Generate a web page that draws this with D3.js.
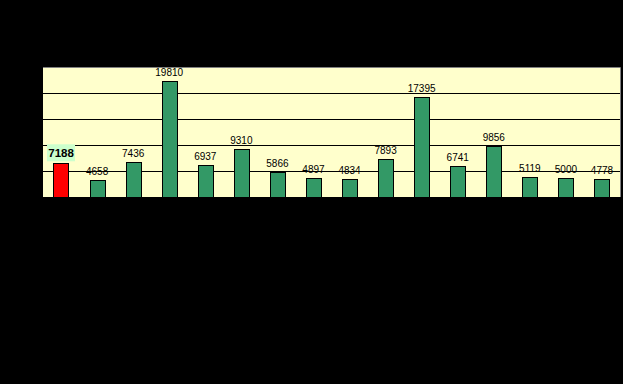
<!DOCTYPE html>
<html>
<head>
<meta charset="utf-8">
<script src="https://cdn.jsdelivr.net/npm/d3@7"></script>
<style>
  html, body { margin: 0; padding: 0; background: #000; }
  svg { display: block; }
</style>
</head>
<body>
<div class="barChart"></div>
<script>
(function(){
var categories = ["1","2","3","4","5","6","7","8","9","10","11","12","13","14","15","16"];
var values = [7188, 4658, 7436, 19810, 6937, 9310, 5866, 4897, 4834, 7893, 17395, 6741, 9856, 5119, 5000, 4778];
var yTicks = [2000, 6000, 10000, 14000, 18000, 22000];
var highlight = 0;

var width = 623, height = 384;
var plot = {left: 43, top: 67, right: 620, bottom: 197};

var chart = d3.select('.barChart').append('svg')
  .attr('width', width).attr('height', height)
  .style('background', '#000');

var x = d3.scaleBand().domain(categories)
  .range([plot.left, plot.right]).paddingInner(0.58).paddingOuter(0.29);
var y = d3.scaleLinear().domain([2000, 22000]).range([plot.bottom, plot.top]);

// plot area
chart.append('rect')
  .attr('x', plot.left).attr('y', plot.top)
  .attr('width', plot.right - plot.left).attr('height', plot.bottom - plot.top)
  .style('fill', '#ffffcc');

// gridlines
var grid = chart.append('g')
  .attr('transform', 'translate(' + plot.left + ',0)')
  .call(d3.axisLeft(y).tickValues(yTicks.slice(1, -1)).tickSize(-(plot.right - plot.left)).tickFormat(''));
grid.select('.domain').remove();
grid.selectAll('line').style('stroke', '#000').style('shape-rendering', 'crispEdges');

// plot border (gray top/right)
chart.append('path')
  .attr('d', 'M' + plot.left + ',' + (plot.top + 0.5) + 'H' + (plot.right + 0.5) + 'V' + plot.bottom)
  .style('fill', 'none').style('stroke', '#808080').style('stroke-width', 1);

// bars
chart.selectAll('rect.bar').data(values).enter()
  .append('rect')
  .attr('class', 'bar')
  .attr('x', function(d, i){ return Math.round(x(categories[i])) + 0.5; })
  .attr('y', function(d){ return Math.round(y(d)) + 0.5; })
  .attr('width', Math.round(x.bandwidth()))
  .attr('height', function(d){ return plot.bottom - Math.round(y(d)); })
  .style('fill', function(d, i){ return i === highlight ? '#ff0000' : '#339966'; })
  .style('stroke', '#000')
  .style('stroke-width', 1);

// highlight label box
var hx = x(categories[highlight]) + x.bandwidth() / 2;
chart.append('rect')
  .attr('x', hx - 14).attr('y', y(values[highlight]) - 19)
  .attr('width', 28).attr('height', 17)
  .style('fill', '#ccffcc');

// value labels
chart.selectAll('text.val').data(values).enter()
  .append('text')
  .attr('class', 'val')
  .attr('x', function(d, i){ return x(categories[i]) + x.bandwidth() / 2; })
  .attr('y', function(d, i){ return y(d) - (i === highlight ? 6 : 5); })
  .attr('text-anchor', 'middle')
  .style('font-family', '"Liberation Sans", Arial, sans-serif')
  .style('font-size', function(d, i){ return i === highlight ? '11.5px' : '10px'; })
  .style('font-weight', function(d, i){ return i === highlight ? 'bold' : 'normal'; })
  .style('fill', '#000')
  .text(function(d){ return d; });
}).call(this);
</script>
</body>
</html>
